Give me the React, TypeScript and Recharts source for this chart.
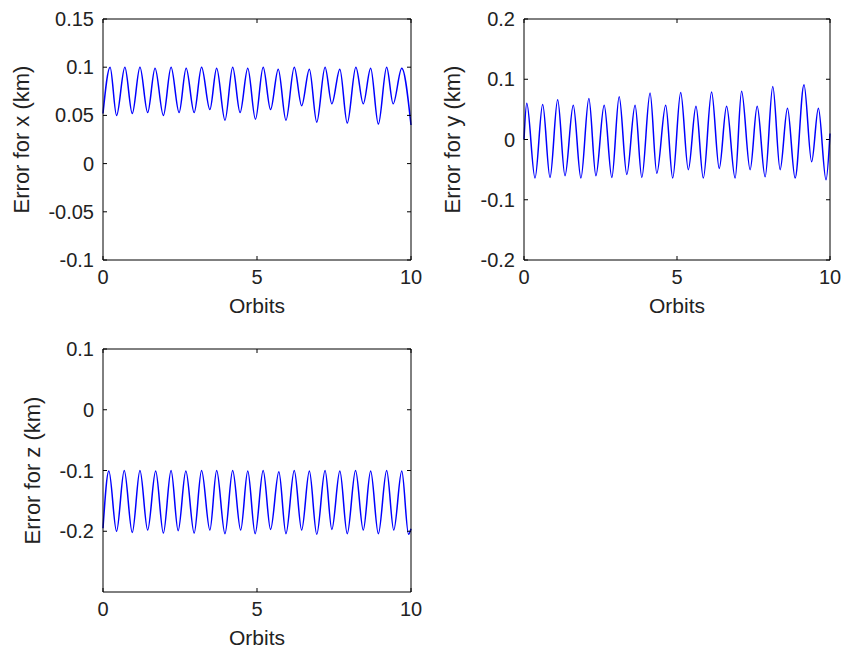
import { LineChart, Line, XAxis, YAxis } from 'recharts';

// Orbit positions (peaks/troughs) and errors
const orbitsX = [0, 0.23, 0.44, 0.71, 0.95, 1.2, 1.45, 1.69, 1.96, 2.21, 2.47, 2.7, 2.96, 3.2, 3.47, 3.69, 3.96, 4.21, 4.45, 4.7, 4.95, 5.2, 5.44, 5.69, 5.94, 6.21, 6.45, 6.7, 6.94, 7.21, 7.43, 7.69, 7.93, 8.21, 8.45, 8.69, 8.94, 9.21, 9.42, 9.7, 10];
const errX = [0.052, 0.1, 0.05, 0.1, 0.052, 0.1, 0.053, 0.099, 0.05, 0.1, 0.053, 0.099, 0.053, 0.1, 0.056, 0.099, 0.045, 0.1, 0.053, 0.099, 0.046, 0.1, 0.056, 0.098, 0.045, 0.1, 0.06, 0.098, 0.043, 0.1, 0.062, 0.098, 0.042, 0.1, 0.062, 0.099, 0.041, 0.1, 0.062, 0.099, 0.04];

const orbitsY = [0, 0.09, 0.36, 0.61, 0.85, 1.1, 1.34, 1.61, 1.86, 2.12, 2.35, 2.62, 2.87, 3.11, 3.36, 3.63, 3.85, 4.12, 4.34, 4.63, 4.86, 5.12, 5.37, 5.62, 5.86, 6.13, 6.38, 6.62, 6.9, 7.11, 7.39, 7.62, 7.88, 8.13, 8.37, 8.61, 8.86, 9.15, 9.4, 9.62, 9.87, 10];
const errY = [0.0, 0.06, -0.064, 0.058, -0.063, 0.066, -0.06, 0.057, -0.064, 0.068, -0.06, 0.057, -0.063, 0.071, -0.058, 0.057, -0.063, 0.077, -0.056, 0.057, -0.064, 0.078, -0.05, 0.055, -0.064, 0.079, -0.048, 0.055, -0.064, 0.08, -0.05, 0.055, -0.062, 0.088, -0.05, 0.052, -0.064, 0.091, -0.037, 0.052, -0.067, 0.01];

const orbitsZ = [0, 0.19, 0.44, 0.69, 0.95, 1.2, 1.45, 1.71, 1.96, 2.21, 2.44, 2.69, 2.96, 3.2, 3.47, 3.69, 3.96, 4.21, 4.47, 4.7, 4.94, 5.2, 5.44, 5.71, 5.94, 6.21, 6.45, 6.7, 6.94, 7.21, 7.43, 7.69, 7.93, 8.2, 8.45, 8.69, 8.94, 9.21, 9.44, 9.7, 9.92, 10];
const errZ = [-0.195, -0.101, -0.2, -0.1, -0.202, -0.1, -0.198, -0.101, -0.203, -0.1, -0.199, -0.101, -0.203, -0.1, -0.198, -0.1, -0.204, -0.1, -0.198, -0.101, -0.204, -0.1, -0.197, -0.102, -0.204, -0.1, -0.198, -0.101, -0.205, -0.1, -0.197, -0.101, -0.204, -0.1, -0.198, -0.101, -0.204, -0.1, -0.198, -0.101, -0.205, -0.196];

const orbitTicks = [0, 5, 10];
const ticksX = [-0.1, -0.05, 0, 0.05, 0.1, 0.15];
const ticksY = [-0.2, -0.1, 0, 0.1, 0.2];
const ticksZ = [-0.2, -0.1, 0, 0.1];

const TL = 4; // inward tick length
const INK = '#222';

const LeftTick = (p: any) => (
  <g>
    <line x1={p.x} y1={p.y} x2={p.x + TL} y2={p.y} stroke="#000" />
    <text x={p.x - 9} y={p.y + 7} textAnchor="end" fontSize={20} fill={INK}>{String(p.payload.value)}</text>
  </g>
);
const BottomTick = (p: any) => (
  <g>
    <line x1={p.x} y1={p.y} x2={p.x} y2={p.y - TL} stroke="#000" />
    <text x={p.x} y={p.y + 24} textAnchor="middle" fontSize={20} fill={INK}>{String(p.payload.value)}</text>
  </g>
);
const RightTick = (p: any) => <line x1={p.x} y1={p.y} x2={p.x - TL} y2={p.y} stroke="#000" />;
const TopTick = (p: any) => <line x1={p.x} y1={p.y} x2={p.x} y2={p.y + TL} stroke="#000" />;

type PanelProps = {
  xs: number[];
  ys: number[];
  domain: [number, number];
  ticks: number[];
  ylabel: string;
  labelOffset: number;
  left: number;
  top: number;
  width: number;
  height: number;
  margin: { top: number; right: number; bottom: number; left: number };
  yAxisWidth: number;
};

function Panel({ xs, ys, domain, ticks, ylabel, labelOffset, left, top, width, height, margin, yAxisWidth }: PanelProps) {
  const data = xs.map((o, i) => ({ o, v: ys[i] }));
  return (
    <div style={{ position: 'absolute', left, top }}>
      <LineChart width={width} height={height} data={data} margin={margin}>
        <XAxis dataKey="o" type="number" domain={[0, 10]} ticks={orbitTicks} interval={0}
          height={60} tickSize={0} tickMargin={0} tick={BottomTick} stroke="#000"
          label={{ value: 'Orbits', position: 'insideBottom', offset: 7, fontSize: 21, fill: INK }} />
        <XAxis xAxisId="top" orientation="top" dataKey="o" type="number" domain={[0, 10]} ticks={orbitTicks}
          interval={0} height={4} tickSize={0} tickMargin={0} tick={TopTick} stroke="#000" />
        <YAxis type="number" domain={domain} ticks={ticks} interval={0} width={yAxisWidth}
          tickSize={0} tickMargin={0} tick={LeftTick} stroke="#000" allowDataOverflow
          label={{ value: ylabel, angle: -90, position: 'insideLeft', offset: labelOffset, fontSize: 22, fill: INK, style: { textAnchor: 'middle' } }} />
        <YAxis yAxisId="right" orientation="right" type="number" domain={domain} ticks={ticks} interval={0}
          width={4} tickSize={0} tickMargin={0} tick={RightTick} stroke="#000" allowDataOverflow />
        <Line type="monotone" dataKey="v" stroke="#0000ff" strokeWidth={1.5} dot={false} isAnimationActive={false} />
      </LineChart>
    </div>
  );
}

export default function App() {
  return (
    <div style={{ position: 'absolute', left: 0, top: 0, width: 845, height: 653, background: '#fff', fontFamily: '"Liberation Sans", Arial, sans-serif' }}>
      <Panel xs={orbitsX} ys={errX} domain={[-0.1, 0.15]} ticks={ticksX} ylabel="Error for x (km)" labelOffset={21}
        left={0} top={0} width={430} height={330} margin={{ top: 15, right: 15, bottom: 10, left: 0 }} yAxisWidth={103} />
      <Panel xs={orbitsY} ys={errY} domain={[-0.2, 0.2]} ticks={ticksY} ylabel="Error for y (km)" labelOffset={32.5}
        left={420} top={0} width={425} height={330} margin={{ top: 15, right: 11, bottom: 10, left: 0 }} yAxisWidth={104} />
      <Panel xs={orbitsZ} ys={errZ} domain={[-0.3, 0.1]} ticks={ticksZ} ylabel="Error for z (km)" labelOffset={32.5}
        left={0} top={330} width={430} height={323} margin={{ top: 15, right: 15, bottom: 1, left: 0 }} yAxisWidth={103} />
    </div>
  );
}
